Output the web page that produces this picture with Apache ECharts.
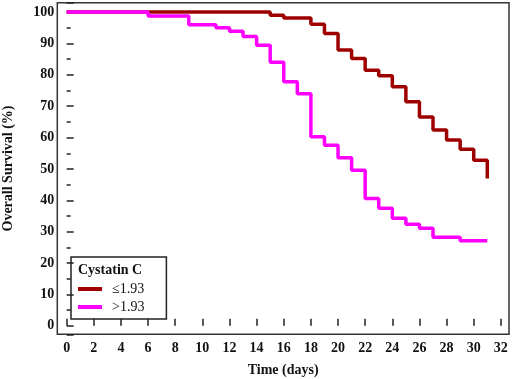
<!DOCTYPE html>
<html>
<head>
<meta charset="utf-8">
<script src="https://cdn.jsdelivr.net/npm/echarts@6/dist/echarts.min.js"></script>
<style>html,body{margin:0;padding:0;background:#fff}#c{width:512px;height:379px}</style>
</head>
<body>
<div id="c"></div>
<script>
// Kaplan-Meier step data: [day, survival %] (value after each drop)
const lowDays = [0, 15, 16, 18, 19, 20, 21, 22, 23, 24, 25, 26, 27, 28, 29, 30, 31];
const lowSurv = [100, 99, 98.1, 96.1, 93.2, 87.9, 85.2, 81.5, 79.7, 76.2, 71.4, 66.6, 62.4, 59.2, 56.3, 52.8, 47];
const highDays = [0, 6, 9, 11, 12, 13, 14, 15, 16, 17, 18, 19, 20, 21, 22, 23, 24, 25, 26, 27, 29, 31];
const highSurv = [100, 98.8, 96, 95, 93.9, 92.2, 89.4, 84, 77.8, 74, 60.3, 57.6, 53.6, 49.6, 40.6, 37.5, 34.3, 32.4, 31.1, 28.2, 27.1, 27.1];
const seriesNames = ['\u22641.93', '>1.93'];
const legendTitle = 'Cystatin C';
const xTitle = 'Time (days)';
const yTitle = 'Overall Survival (%)';
// axis extents (frame slightly beyond the 0..32 / 0..100 tick ranges)
const xRange = [-0.69, 32.6];
const yRange = [-2.7, 103];
const xStep = 2;
const yStep = 10;

const font = 'Liberation Serif';
const zip = (a, b) => a.map((v, i) => [v, b[i]]);

const chart = echarts.init(document.getElementById('c'), null, {renderer: 'canvas'});
chart.setOption({
  animation: false,
  backgroundColor: '#fff',
  title: {
    text: legendTitle, left: 78, top: 263, padding: 0,
    textStyle: {fontFamily: font, fontWeight: 'bold', fontSize: 14, color: '#111'}
  },
  legend: {
    orient: 'vertical', left: 71, top: 257,
    padding: [25, 22, 5, 7],
    borderColor: '#222', borderWidth: 1.5,
    itemWidth: 24, itemHeight: 4, itemGap: 4,
    icon: 'rect',
    data: seriesNames,
    textStyle: {fontFamily: font, fontSize: 14, color: '#111', lineHeight: 14, padding: [0, 0, 0, 5]}
  },
  grid: {
    left: 57.3, right: 3, top: 2.7, bottom: 44.7,
    show: true, borderColor: '#333', borderWidth: 1.5, backgroundColor: 'transparent',
    containLabel: false, outerBoundsMode: 'none'
  },
  xAxis: {
    type: 'value', min: xRange[0], max: xRange[1], splitNumber: 16,
    minInterval: xStep, maxInterval: xStep,
    axisLine: {show: false},
    axisTick: {show: true, inside: true, length: 7, lineStyle: {color: '#222', width: 1.5}},
    splitLine: {show: false},
    axisLabel: {margin: 7, showMinLabel: false, showMaxLabel: false,
      fontFamily: font, fontWeight: 'bold', fontSize: 14, color: '#111'},
    name: xTitle, nameLocation: 'middle', nameGap: 29,
    nameTextStyle: {fontFamily: font, fontWeight: 'bold', fontSize: 14, color: '#111'}
  },
  yAxis: {
    type: 'value', min: yRange[0], max: yRange[1], splitNumber: 10,
    minInterval: yStep, maxInterval: yStep,
    axisLine: {show: false},
    axisTick: {show: true, inside: true, length: 7, lineStyle: {color: '#222', width: 1.5}},
    minorTick: {show: true, splitNumber: 2, length: 4, lineStyle: {color: '#222', width: 1.5}},
    splitLine: {show: false},
    axisLabel: {margin: 3, showMinLabel: false, showMaxLabel: false,
      fontFamily: font, fontWeight: 'bold', fontSize: 14, color: '#111'},
    name: yTitle, nameLocation: 'middle', nameGap: 42,
    nameTextStyle: {fontFamily: font, fontWeight: 'bold', fontSize: 14, color: '#111'}
  },
  series: [
    {
      name: seriesNames[0], type: 'line', step: 'end',
      data: zip(lowDays, lowSurv), showSymbol: false, symbol: 'none',
      color: '#9E0000', lineStyle: {width: 3.5, color: '#9E0000'}
    },
    {
      name: seriesNames[1], type: 'line', step: 'end',
      data: zip(highDays, highSurv), showSymbol: false, symbol: 'none',
      color: '#FF00FF', lineStyle: {width: 3.5, color: '#FF00FF'}
    }
  ]
});
</script>
</body>
</html>
